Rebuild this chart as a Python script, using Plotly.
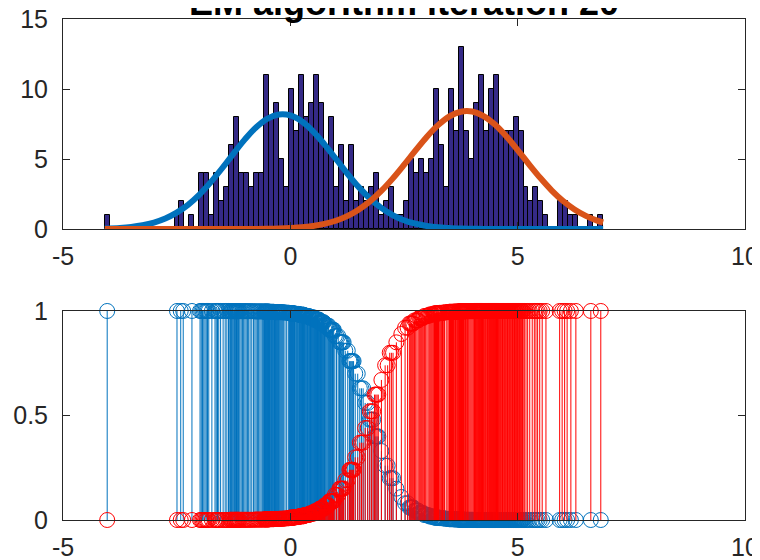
import plotly.graph_objects as go

# ---------------- data ----------------
bin_min = -4.083
bin_max = 6.883
hist_counts = [1, 0, 0, 0, 0, 0, 0, 0, 0, 0,
               0, 0, 0, 0, 1, 2, 0, 1, 0, 4,
               4, 1, 4, 2, 3, 6, 8, 4, 4, 3,
               4, 4, 11, 8, 9, 5, 3, 10, 7, 11,
               8, 9, 11, 9, 6, 8, 3, 6, 2, 6,
               2, 3, 2, 3, 4, 1, 2, 3, 1, 1,
               2, 5, 4, 5, 4, 5, 10, 6, 3, 10,
               7, 13, 7, 5, 9, 11, 7, 10, 11, 7,
               7, 7, 8, 7, 3, 2, 3, 2, 1, 0,
               0, 2, 2, 1, 1, 0, 0, 1, 0, 1]

curve_x = [-4.08, -3.75, -3.5, -3.25, -3.0, -2.75, -2.5, -2.25, -2.0, -1.75,
           -1.5, -1.25, -1.0, -0.75, -0.5, -0.25, 0.0, 0.25, 0.5, 0.75,
           1.0, 1.25, 1.5, 1.75, 2.0, 2.25, 2.5, 2.75, 3.0, 3.25,
           3.5, 3.75, 4.0, 4.25, 4.5, 4.75, 5.0, 5.25, 5.5, 5.75,
           6.0, 6.25, 6.5, 6.75, 6.88]
comp1_y = [0.03, 0.08, 0.15, 0.27, 0.46, 0.75, 1.17, 1.73, 2.46, 3.35,
           4.34, 5.39, 6.40, 7.27, 7.89, 8.18, 8.12, 7.70, 6.98, 6.05,
           5.02, 3.98, 3.01, 2.18, 1.51, 1.00, 0.63, 0.38, 0.22, 0.12,
           0.07, 0.03, 0.02, 0.01, 0.0, 0.0, 0.0, 0.0, 0.0, 0.0,
           0.0, 0.0, 0.0, 0.0, 0.0]
comp2_y = [0.0, 0.0, 0.0, 0.0, 0.0, 0.0, 0.0, 0.0, 0.0, 0.0,
           0.0, 0.0, 0.004, 0.009, 0.018, 0.036, 0.068, 0.12, 0.22, 0.37,
           0.59, 0.92, 1.38, 1.97, 2.72, 3.60, 4.58, 5.60, 6.58, 7.42,
           8.05, 8.38, 8.39, 8.07, 7.46, 6.62, 5.64, 4.62, 3.64, 2.75,
           2.00, 1.40, 0.94, 0.60, 0.47]

# responsibility of component 2 (red) for the points of each histogram bin
resp2 = [0, 0, 0, 0, 0, 0, 0, 0, 0, 0,
         0, 0, 0, 0, 0, 0, 0, 0, 0, 0,
         0, 0, 0, 0, 0, 0.001, 0.001, 0.001, 0.001, 0.001,
         0.002, 0.002, 0.003, 0.004, 0.005, 0.006, 0.008, 0.011, 0.014, 0.018,
         0.024, 0.031, 0.041, 0.054, 0.07, 0.09, 0.12, 0.15, 0.19, 0.24,
         0.30, 0.37, 0.44, 0.52, 0.60, 0.67, 0.74, 0.80, 0.85, 0.89,
         0.92, 0.94, 0.955, 0.967, 0.976, 0.983, 0.988, 0.991, 0.994, 0.996,
         0.997, 0.998, 0.999, 0.999, 1, 1, 1, 1, 1, 1,
         1, 1, 1, 1, 1, 1, 1, 1, 1, 1,
         1, 1, 1, 1, 1, 1, 1, 1, 1, 1]

title_text = "EM algorithm iteration 20"
x_ticks = [-5, 0, 5, 10]
x_ticklabels = ["-5", "0", "5", "10"]
y1_ticks = [0, 5, 10, 15]
y2_ticks = [0, 0.5, 1]
y2_ticklabels = ["0", "0.5", "1"]

# ---------------- derived quantities ----------------
nb = len(hist_counts)
bw = (bin_max - bin_min) / nb
centers = [bin_min + (i + 0.5) * bw for i in range(nb)]

# data points spread within their bins, with their responsibilities
pts_x, pts_r2 = [], []
for i, n in enumerate(hist_counts):
    for k in range(n):
        pts_x.append(bin_min + i * bw + (k + 0.5) * bw / n)
        pts_r2.append(resp2[i])
pts_r1 = [1 - r for r in pts_r2]


def stems(xs, ys):
    sx, sy = [], []
    for a, b in zip(xs, ys):
        sx += [a, a, None]
        sy += [0, b, None]
    return sx, sy


BLUE = "#0072BD"
ORANGE = "#D95319"
RED = "#FF0000"
AXC = "#262626"
FONT = "Liberation Sans, Arial, Helvetica, sans-serif"

fig = go.Figure()

fig.add_trace(go.Bar(x=centers, y=hist_counts, width=bw,
                     marker=dict(color="#352A87", line=dict(color="black", width=1)),
                     xaxis="x", yaxis="y", showlegend=False))
fig.add_trace(go.Scatter(x=curve_x, y=comp1_y, mode="lines", line_shape="spline",
                         line=dict(color=BLUE, width=6), cliponaxis=False,
                         xaxis="x", yaxis="y", showlegend=False))
fig.add_trace(go.Scatter(x=curve_x, y=comp2_y, mode="lines", line_shape="spline",
                         line=dict(color=ORANGE, width=6), cliponaxis=False,
                         xaxis="x", yaxis="y", showlegend=False))

for ys, col in ((pts_r1, BLUE), (pts_r2, RED)):
    sx, sy = stems(pts_x, ys)
    fig.add_trace(go.Scatter(x=sx, y=sy, mode="lines", line=dict(color=col, width=1),
                             xaxis="x2", yaxis="y2", showlegend=False, cliponaxis=False))
    fig.add_trace(go.Scatter(x=pts_x, y=ys, mode="markers",
                             marker=dict(symbol="circle-open", size=15,
                                         line=dict(color=col, width=1), color=col),
                             xaxis="x2", yaxis="y2", showlegend=False, cliponaxis=False))

axis_common = dict(showline=True, linecolor=AXC, linewidth=1, mirror="allticks",
                   ticks="inside", ticklen=7, tickcolor=AXC, tickwidth=1,
                   showgrid=False, zeroline=False, automargin=False,
                   ticklabeloverflow="allow",
                   tickfont=dict(family=FONT, size=25, color=AXC))

# the page adds an 8 px body margin, so the margins below are shifted by 8 px
fig.update_layout(
    width=760, height=560,
    margin=dict(l=55, r=23, t=11, b=48, autoexpand=False),
    paper_bgcolor="white", plot_bgcolor="white",
    bargap=0,
    xaxis=dict(domain=[0, 1], range=[-5, 10], tickvals=x_ticks, ticktext=x_ticklabels,
               anchor="y", ticklabelstandoff=5, **axis_common),
    yaxis=dict(domain=[0.5808, 1], range=[0, 15], tickvals=y1_ticks, anchor="x",
               ticklabelstandoff=9, **axis_common),
    xaxis2=dict(domain=[0, 1], range=[-5, 10], tickvals=x_ticks, ticktext=x_ticklabels,
                anchor="y2", ticklabelstandoff=5, **axis_common),
    yaxis2=dict(domain=[0, 0.4172], range=[0, 1], tickvals=y2_ticks,
                ticktext=y2_ticklabels, anchor="x2", ticklabelstandoff=9, **axis_common),
    annotations=[dict(text="<b>" + title_text + "</b>", xref="paper", yref="paper",
                      x=0.5, y=1, xanchor="center", yanchor="bottom", yshift=-6,
                      showarrow=False, font=dict(family=FONT, size=36, color="black"))],
)

fig.write_html("out.html")
